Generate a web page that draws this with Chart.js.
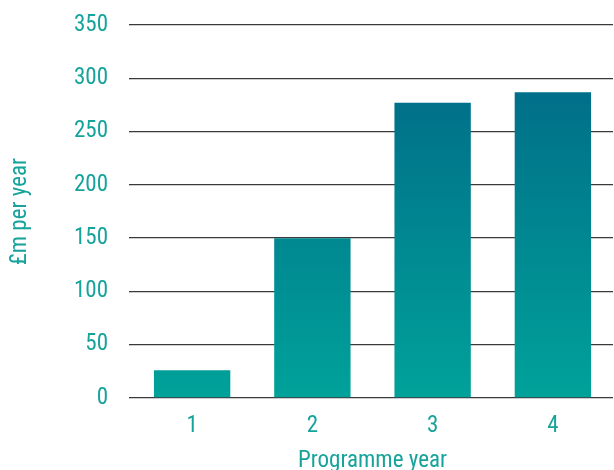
<!DOCTYPE html>
<html>
<head>
<meta charset="utf-8">
<script src="https://cdn.jsdelivr.net/npm/chart.js@4"></script>
<style>
  html, body { margin: 0; padding: 0; background: #fff; }
  #wrap { width: 614px; height: 470px; }
</style>
</head>
<body>
<div id="wrap"><canvas id="myChart"></canvas></div>
<script>
const years = ['1', '2', '3', '4'];
const spend = [26, 150, 277, 287];
const yMin = 0;
const yMax = 350;
const yStep = 50;

const teal = '#16a39b';
const fontFamily = "'Liberation Sans Narrow', 'Roboto Condensed', Roboto, sans-serif";

function barGradient(context) {
  const chart = context.chart;
  const area = chart.chartArea;
  if (!area) return '#00a29a';
  const g = chart.ctx.createLinearGradient(0, area.bottom, 0, area.top);
  g.addColorStop(0, '#00a29a');
  g.addColorStop(1, '#006485');
  return g;
}

const ctx = document.getElementById('myChart').getContext('2d');
const myChart = new Chart(ctx, {
  type: 'bar',
  data: {
    labels: years,
    datasets: [{
      label: '£m per year',
      data: spend,
      backgroundColor: barGradient,
      borderWidth: 0,
      categoryPercentage: 1,
      barPercentage: 0.635
    }]
  },
  options: {
    responsive: true,
    maintainAspectRatio: false,
    animation: false,
    layout: { padding: { top: 25, right: 1, left: 0, bottom: 0 } },
    plugins: {
      legend: { display: false },
      tooltip: { enabled: false }
    },
    scales: {
      x: {
        afterFit: (axis) => { axis.height = 72; },
        grid: { display: false, drawTicks: false },
        border: { display: false },
        ticks: {
          color: teal,
          font: { family: fontFamily, size: 23 },
          padding: 14
        },
        title: {
          display: true,
          text: 'Programme year',
          color: teal,
          font: { family: fontFamily, size: 23 },
          padding: { top: 0, bottom: -5 }
        }
      },
      y: {
        min: yMin,
        max: yMax,
        afterFit: (axis) => {
          axis.width = 132;
          // tick padding would otherwise push the plot top down
          axis.paddingTop = 0;
        },
        grid: {
          color: '#3a3a3a',
          lineWidth: 1.3,
          drawTicks: true,
          tickLength: 3
        },
        border: { display: false },
        ticks: {
          stepSize: yStep,
          color: teal,
          font: { family: fontFamily, size: 23 },
          padding: 21
        },
        title: {
          display: true,
          text: '£m per year',
          color: teal,
          font: { family: fontFamily, size: 23 },
          padding: { top: 6, bottom: 0 }
        }
      }
    }
  }
});
</script>
</body>
</html>
